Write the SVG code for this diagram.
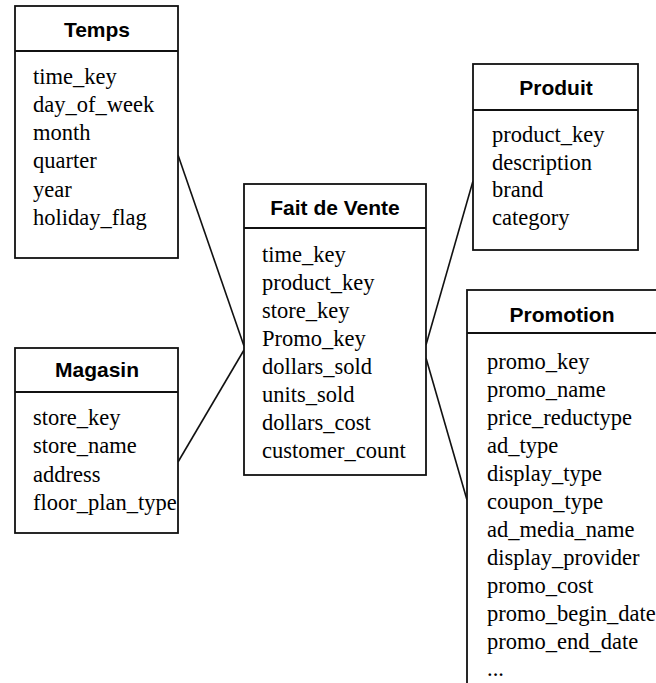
<svg xmlns="http://www.w3.org/2000/svg" width="656" height="683" viewBox="0 0 656 683">
<style>
.box{fill:#fff;stroke:#111;stroke-width:1.8}
.sep{stroke:#111;stroke-width:1.8}
.title{font-family:"Liberation Sans",Arial,sans-serif;font-weight:bold;font-size:21px;fill:#000;text-anchor:middle}
.row{font-family:"Liberation Serif","Times New Roman",serif;font-size:22.5px;fill:#000}
.conn{stroke:#111;stroke-width:1.6;fill:none}
</style>
<rect width="656" height="683" fill="#fff"/>
<g id="connectors">
<line class="conn" x1="178" y1="155" x2="244" y2="346"/>
<line class="conn" x1="178" y1="462" x2="244" y2="350"/>
<line class="conn" x1="426" y1="345" x2="473" y2="181"/>
<line class="conn" x1="426" y1="358" x2="467" y2="500"/>
</g>
<g id="temps">
<rect class="box" x="15" y="6" width="163" height="252"/>
<line class="sep" x1="15" y1="51" x2="178" y2="51"/>
<text class="title" x="97" y="37">Temps</text>
<text class="row" x="33" y="84">time_key</text>
<text class="row" x="33" y="112">day_of_week</text>
<text class="row" x="33" y="140">month</text>
<text class="row" x="33" y="168">quarter</text>
<text class="row" x="33" y="197">year</text>
<text class="row" x="33" y="225">holiday_flag</text>
</g>
<g id="magasin">
<rect class="box" x="15" y="348" width="163" height="185"/>
<line class="sep" x1="15" y1="392" x2="178" y2="392"/>
<text class="title" x="97" y="377">Magasin</text>
<text class="row" x="33" y="425">store_key</text>
<text class="row" x="33" y="453">store_name</text>
<text class="row" x="33" y="482">address</text>
<text class="row" x="33" y="510">floor_plan_type</text>
</g>
<g id="fait">
<rect class="box" x="244" y="184" width="182" height="291"/>
<line class="sep" x1="244" y1="228" x2="426" y2="228"/>
<text class="title" x="335" y="215">Fait de Vente</text>
<text class="row" x="262" y="262">time_key</text>
<text class="row" x="262" y="290">product_key</text>
<text class="row" x="262" y="318">store_key</text>
<text class="row" x="262" y="346">Promo_key</text>
<text class="row" x="262" y="374">dollars_sold</text>
<text class="row" x="262" y="402">units_sold</text>
<text class="row" x="262" y="430">dollars_cost</text>
<text class="row" x="262" y="458">customer_count</text>
</g>
<g id="produit">
<rect class="box" x="473" y="64" width="165" height="186"/>
<line class="sep" x1="473" y1="110" x2="638" y2="110"/>
<text class="title" x="556" y="95">Produit</text>
<text class="row" x="492" y="142">product_key</text>
<text class="row" x="492" y="170">description</text>
<text class="row" x="492" y="197">brand</text>
<text class="row" x="492" y="225">category</text>
</g>
<g id="promotion">
<rect class="box" x="467" y="290" width="260" height="420"/>
<line class="sep" x1="467" y1="333" x2="727" y2="333"/>
<text class="title" x="562" y="322">Promotion</text>
<text class="row" x="487" y="369">promo_key</text>
<text class="row" x="487" y="397">promo_name</text>
<text class="row" x="487" y="425">price_reductype</text>
<text class="row" x="487" y="453">ad_type</text>
<text class="row" x="487" y="481">display_type</text>
<text class="row" x="487" y="509">coupon_type</text>
<text class="row" x="487" y="537">ad_media_name</text>
<text class="row" x="487" y="565">display_provider</text>
<text class="row" x="487" y="593">promo_cost</text>
<text class="row" x="487" y="621">promo_begin_date</text>
<text class="row" x="487" y="649">promo_end_date</text>
<text class="row" x="487" y="676">...</text>
</g>
</svg>
